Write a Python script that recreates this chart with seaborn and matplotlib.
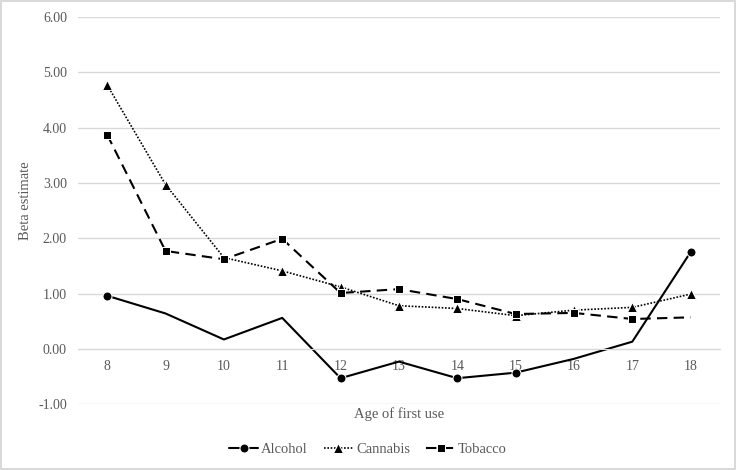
import pandas as pd
import matplotlib.pyplot as plt
import seaborn as sns

# Values
ages = [8, 9, 10, 11, 12, 13, 14, 15, 16, 17, 18]
alcohol = [0.96, 0.64, 0.17, 0.56, -0.53, -0.23, -0.53, -0.43, -0.18, 0.13, 1.75]
cannabis = [4.77, 2.97, 1.65, 1.41, 1.12, 0.78, 0.73, 0.60, 0.70, 0.75, 0.99]
tobacco = [3.87, 1.77, 1.62, 1.99, 1.01, 1.08, 0.90, 0.63, 0.65, 0.54, 0.57]
y_ticks = [-1, 0, 1, 2, 3, 4, 5, 6]

# points with a visible marker in the reference
alcohol_marked = [0, 4, 6, 7, 10]
tobacco_marked = [0, 1, 2, 3, 4, 5, 6, 7, 8, 9]

data = pd.DataFrame({'Age': ages, 'Alcohol': alcohol,
                     'Cannabis': cannabis, 'Tobacco': tobacco})

sns.set_style("white")
plt.rcParams['font.family'] = ['Liberation Serif', 'DejaVu Serif']

fig = plt.figure(figsize=(7.36, 4.70), dpi=100)
fig.patch.set_edgecolor('#d9d9d9')
fig.patch.set_linewidth(1.5)
ax = fig.add_axes([0.106, 0.140, 0.872, 0.824])

sns.lineplot(x='Age', y='Alcohol', data=data, ax=ax, color='black', lw=1.5,
             marker='o', markersize=6.5, markevery=alcohol_marked, label='Alcohol')
sns.lineplot(x='Age', y='Cannabis', data=data, ax=ax, color='black', lw=1.2,
             linestyle=(0, (1, 1)), marker='^', markersize=6.5, label='Cannabis')
sns.lineplot(x='Age', y='Tobacco', data=data, ax=ax, color='black', lw=1.5,
             linestyle=(0, (5, 3)), marker='s', markersize=6,
             markevery=tobacco_marked, label='Tobacco')

ax.set_xlim(7.5, 18.5)
ax.set_ylim(-1, 6)
ax.set_yticks(y_ticks)
ax.set_yticklabels([f"{v:.2f}" for v in y_ticks])
ax.set_xticks(ages)
ax.grid(axis='y', color='#d9d9d9', lw=1)
ax.set_axisbelow(True)
for s in ['top', 'left', 'right']:
    ax.spines[s].set_visible(False)
ax.spines['bottom'].set_position(('data', 0))
ax.spines['bottom'].set_color('#d9d9d9')
ax.tick_params(axis='both', length=0, labelsize=10, labelcolor='#595959', pad=8)

ax.set_xlabel('')
ax.set_ylabel('Beta estimate', fontsize=10.5, color='#595959')
ax.yaxis.set_label_coords(-0.072, 0.525)
# x label sits below the -1.00 gridline, centred on the plot area
ax.text(0.5, -1.18, 'Age of first use', ha='center', va='center',
        fontsize=10.5, color='#595959', transform=ax.get_yaxis_transform())

ax.get_legend().remove()
handles, labels = ax.get_legend_handles_labels()
fig.legend(handles, labels, loc='center', bbox_to_anchor=(0.5, 1 - 449 / 470),
           ncol=3, frameon=False, fontsize=10.5, labelcolor='#595959',
           handlelength=2.0, columnspacing=1.1, handletextpad=0.2)

plt.savefig("out.png", dpi=100)
